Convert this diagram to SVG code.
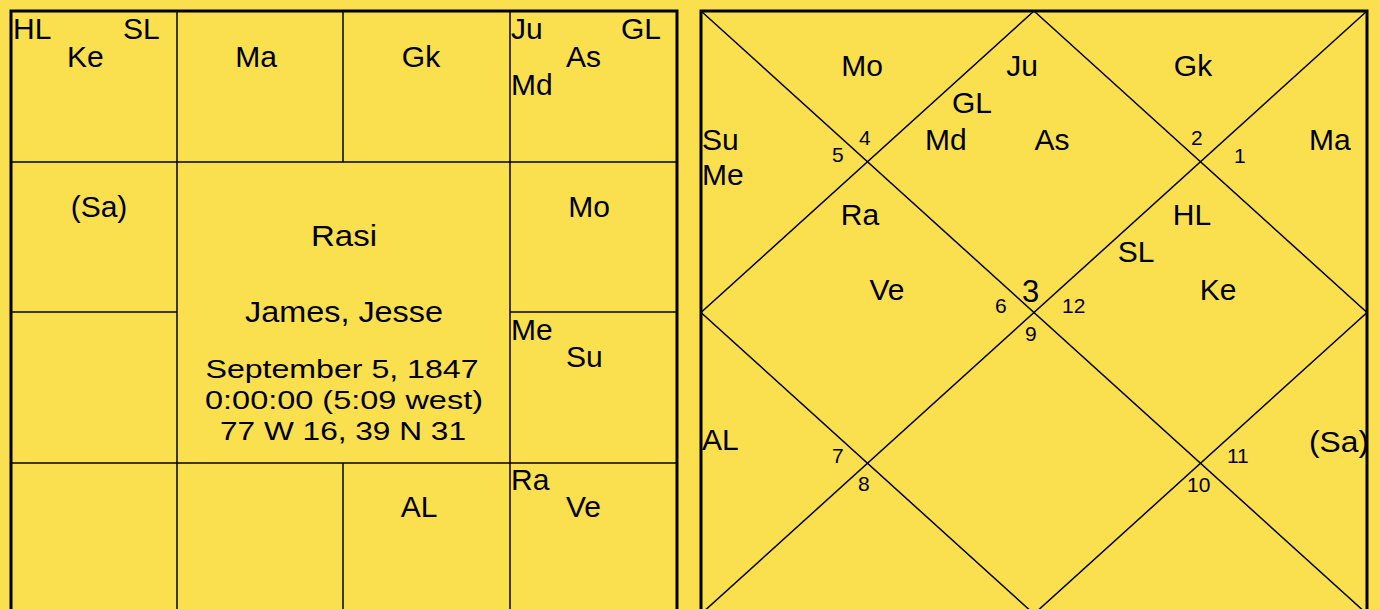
<svg xmlns="http://www.w3.org/2000/svg" width="1380" height="609" viewBox="0 0 1380 609">
<style>
text{font-family:"Liberation Sans",Arial,sans-serif;fill:#000}
.p{font-size:30px}
.n{font-size:21px}
.big{font-size:31px}
.c{font-size:30px;text-anchor:middle}
.s{font-size:25px;text-anchor:middle}
.m{text-anchor:middle}
.thick{stroke:#000;stroke-width:3;fill:none}
.thin{stroke:#000;stroke-width:1.5;fill:none}
</style>
<rect x="0" y="0" width="1380" height="609" fill="#FAE04F"/>
<g id="connectors">
<g id="left-grid">
<line class="thin" x1="11" y1="162" x2="677" y2="162"/>
<line class="thin" x1="11" y1="463" x2="677" y2="463"/>
<line class="thin" x1="11" y1="312" x2="177" y2="312"/>
<line class="thin" x1="510" y1="312" x2="677" y2="312"/>
<line class="thin" x1="177" y1="11" x2="177" y2="614"/>
<line class="thin" x1="510" y1="11" x2="510" y2="614"/>
<line class="thin" x1="343" y1="11" x2="343" y2="162"/>
<line class="thin" x1="343" y1="463" x2="343" y2="614"/>
<rect class="thick" x="11" y="11" width="666" height="604"/>
</g>
<g id="right-grid">
<line class="thin" x1="701" y1="11" x2="1367" y2="614"/>
<line class="thin" x1="1367" y1="11" x2="701" y2="614"/>
<polygon class="thin" points="1034,11 1367,312.5 1034,614 701,312.5"/>
<rect class="thick" x="701" y="11" width="666" height="604"/>
</g>
</g>
<g id="left-chart">
<g id="l-pisces"><text class="p" x="13" y="39">HL</text><text class="p" x="123" y="39">SL</text><text class="p" x="67" y="67">Ke</text></g>
<g id="l-aries"><text class="p m" x="256" y="67">Ma</text></g>
<g id="l-taurus"><text class="p m" x="421" y="67">Gk</text></g>
<g id="l-gemini"><text class="p" x="511" y="39">Ju</text><text class="p" x="621" y="39">GL</text><text class="p" x="566" y="67">As</text><text class="p" x="511" y="95">Md</text></g>
<g id="l-aquarius"><text class="p m" x="99" y="217">(Sa)</text></g>
<g id="l-cancer"><text class="p m" x="589" y="217">Mo</text></g>
<g id="l-leo"><text class="p" x="511" y="340">Me</text><text class="p" x="566" y="367">Su</text></g>
<g id="l-scorpio"><text class="p m" x="419" y="517">AL</text></g>
<g id="l-virgo"><text class="p" x="511" y="490">Ra</text><text class="p" x="566" y="517">Ve</text></g>
<g id="l-center"><text class="c" x="344" y="246" textLength="66" lengthAdjust="spacingAndGlyphs">Rasi</text><text class="c" x="344" y="322" textLength="198" lengthAdjust="spacingAndGlyphs">James, Jesse</text><text class="s" x="342" y="378" textLength="273" lengthAdjust="spacingAndGlyphs">September 5, 1847</text><text class="s" x="344" y="409" textLength="278" lengthAdjust="spacingAndGlyphs">0:00:00 (5:09 west)</text><text class="s" x="343" y="440" textLength="246" lengthAdjust="spacingAndGlyphs">77 W 16, 39 N 31</text></g>
</g>
<g id="right-chart">
<g id="h4"><text class="p m" x="862" y="76">Mo</text><text class="n" x="859" y="145">4</text></g>
<g id="h3"><text class="p m" x="1022" y="76">Ju</text><text class="p" x="952" y="113">GL</text><text class="p" x="925" y="150">Md</text><text class="p m" x="1052" y="150">As</text><text class="p m" x="860" y="225">Ra</text><text class="p m" x="887" y="300">Ve</text><text class="big" x="1022" y="302">3</text></g>
<g id="h2"><text class="p m" x="1193" y="76">Gk</text><text class="n" x="1191" y="145">2</text></g>
<g id="h1"><text class="p" x="1309" y="150">Ma</text><text class="n" x="1234" y="163">1</text></g>
<g id="h5"><text class="p" x="702" y="150">Su</text><text class="p" x="702" y="185">Me</text><text class="n" x="832" y="162">5</text></g>
<g id="h12"><text class="p m" x="1192" y="225">HL</text><text class="p m" x="1136" y="262">SL</text><text class="p m" x="1218" y="300">Ke</text><text class="n" x="1062" y="313">12</text></g>
<g id="h6"><text class="n" x="995" y="313">6</text></g>
<g id="h9"><text class="n" x="1025" y="341">9</text></g>
<g id="h7"><text class="p" x="702" y="450">AL</text><text class="n" x="832" y="463">7</text></g>
<g id="h8"><text class="n" x="858" y="491">8</text></g>
<g id="h10"><text class="n" x="1187" y="492">10</text></g>
<g id="h11"><text class="p" x="1309" y="452" textLength="60" lengthAdjust="spacingAndGlyphs">(Sa)</text><text class="n" x="1227" y="463">11</text></g>
</g>
</svg>
